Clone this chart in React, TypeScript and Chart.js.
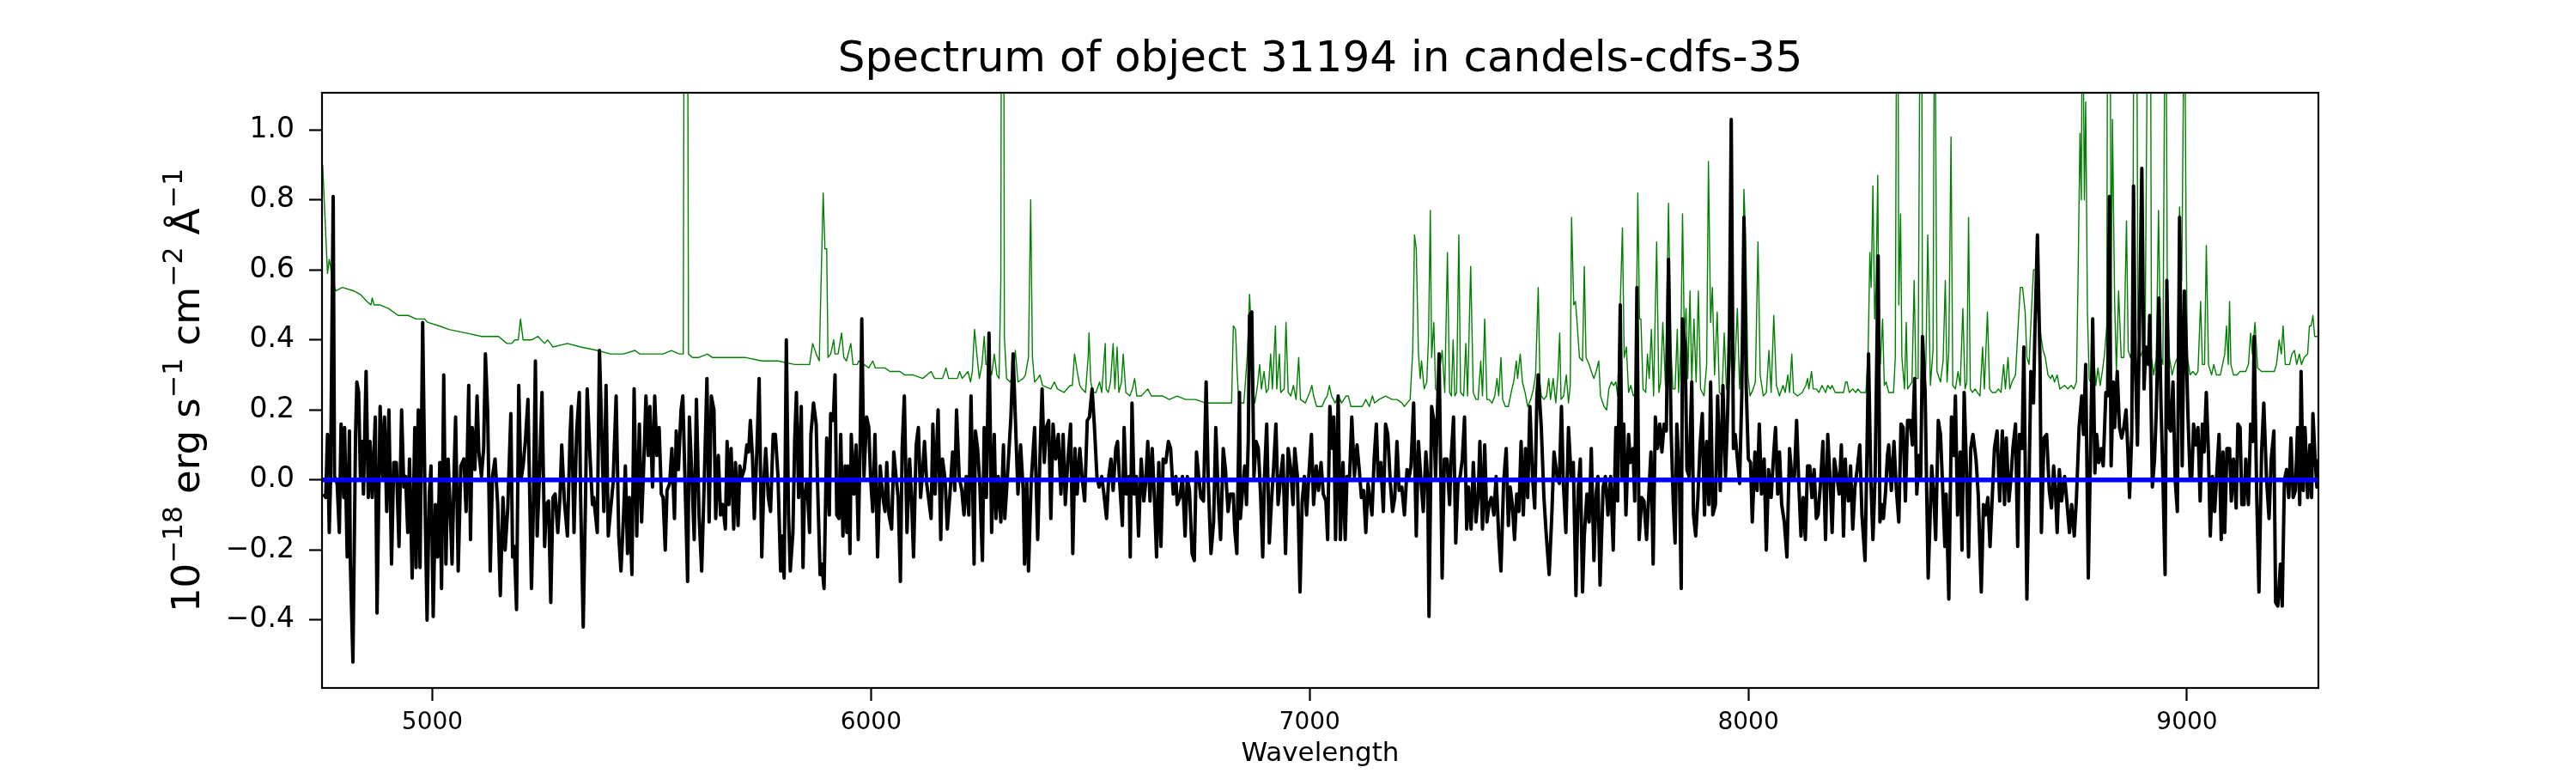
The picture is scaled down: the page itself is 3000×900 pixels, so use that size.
import React, { useEffect, useRef } from "react";
import { Chart, registerables } from "chart.js";

Chart.register(...registerables);

const titleText = "Spectrum of object 31194 in candels-cdfs-35";
const xAxisLabel = "Wavelength";
const yLabelParts = [
  { text: "10", sup: false },
  { text: "\u221218", sup: true },
  { text: " erg s", sup: false },
  { text: "\u22121", sup: true },
  { text: " cm", sup: false },
  { text: "\u22122", sup: true },
  { text: " \u00C5", sup: false },
  { text: "\u22121", sup: true },
];
const xTicks = [5000, 6000, 7000, 8000, 9000];
const yTicks = [-0.4, -0.2, 0.0, 0.2, 0.4, 0.6, 0.8, 1.0];
const xMin = 4748.5;
const xMax = 9299.5;
const yMin = -0.594;
const yMax = 1.106;

// object flux: [wavelength (Å), flux]
const objectFlux = [
  [4752,-0.04],[4757,-0.05],[4761,0.13],[4765,-0.15],[4768,0.00],[4774,0.81],[4777,0.01],[4783,-0.01],[4788,-0.15],[4792,0.16],
  [4798,-0.05],[4800,0.15],[4806,-0.22],[4811,0.14],[4813,-0.23],[4819,-0.52],[4825,0.13],[4828,0.28],[4832,0.25],[4836,0.01],
  [4840,0.11],[4843,-0.04],[4849,0.31],[4854,-0.05],[4858,0.11],[4863,-0.05],[4870,0.18],[4874,-0.38],[4881,0.21],[4887,0.01],
  [4891,0.18],[4896,-0.09],[4901,0.20],[4907,-0.24],[4912,0.05],[4918,0.05],[4924,-0.19],[4930,0.20],[4935,-0.02],[4939,0.01],
  [4944,-0.15],[4948,0.06],[4954,-0.28],[4960,0.15],[4963,-0.25],[4968,0.20],[4972,-0.25],[4978,0.45],[4984,-0.11],[4988,-0.40],
  [4993,-0.04],[4997,0.04],[5002,-0.39],[5007,-0.07],[5012,-0.22],[5017,0.05],[5021,-0.31],[5026,0.30],[5031,-0.24],[5036,0.06],
  [5040,-0.06],[5045,-0.24],[5050,0.04],[5053,0.18],[5059,-0.26],[5065,0.04],[5072,0.06],[5077,-0.09],[5083,0.27],[5087,-0.17],
  [5091,0.15],[5097,0.03],[5102,0.24],[5106,0.08],[5112,0.01],[5117,0.09],[5121,0.36],[5126,0.20],[5132,-0.26],[5137,0.01],
  [5143,0.06],[5149,-0.07],[5155,-0.33],[5161,-0.05],[5166,-0.20],[5172,-0.08],[5179,0.19],[5183,-0.22],[5187,-0.19],[5192,-0.37],
  [5197,0.27],[5202,0.00],[5207,0.04],[5212,0.11],[5218,0.23],[5226,-0.31],[5230,-0.10],[5235,0.34],[5239,-0.16],[5245,0.04],
  [5250,0.25],[5256,-0.19],[5260,-0.07],[5265,-0.06],[5270,-0.35],[5275,-0.05],[5280,-0.04],[5286,-0.15],[5291,-0.05],[5295,0.10],
  [5301,-0.06],[5308,-0.16],[5314,0.13],[5317,0.21],[5323,-0.15],[5329,0.14],[5335,0.25],[5338,-0.05],[5344,-0.42],[5349,-0.07],
  [5353,0.26],[5359,0.08],[5365,-0.07],[5368,-0.05],[5376,-0.15],[5381,0.37],[5385,0.19],[5391,-0.09],[5396,0.27],[5401,-0.16],
  [5406,-0.09],[5412,-0.01],[5419,0.24],[5425,-0.16],[5430,-0.26],[5436,-0.10],[5440,0.04],[5445,-0.21],[5449,-0.05],[5455,-0.27],
  [5460,0.26],[5466,-0.16],[5472,0.16],[5477,-0.12],[5481,0.01],[5487,0.24],[5492,0.07],[5496,0.21],[5502,-0.02],[5507,0.24],
  [5512,0.07],[5517,0.15],[5522,-0.04],[5526,-0.05],[5531,-0.20],[5535,-0.03],[5541,-0.01],[5546,0.09],[5552,-0.11],[5556,0.14],
  [5561,0.03],[5567,0.20],[5571,0.24],[5577,-0.05],[5582,-0.29],[5586,0.18],[5592,0.00],[5597,-0.17],[5602,0.23],[5608,-0.10],
  [5614,-0.26],[5620,0.00],[5626,0.29],[5631,-0.12],[5636,0.24],[5642,0.20],[5646,-0.11],[5652,0.07],[5657,-0.10],[5662,-0.07],
  [5668,-0.14],[5672,0.11],[5676,-0.07],[5681,0.09],[5687,-0.14],[5691,0.05],[5697,-0.13],[5701,0.04],[5706,0.01],[5711,0.03],
  [5717,0.10],[5721,0.08],[5725,0.17],[5730,0.06],[5734,-0.11],[5740,0.09],[5745,0.29],[5751,-0.22],[5756,0.00],[5760,0.09],
  [5766,-0.05],[5771,-0.09],[5777,0.13],[5782,0.13],[5788,0.01],[5794,-0.26],[5797,-0.16],[5802,-0.28],[5807,0.40],[5812,-0.10],
  [5816,-0.26],[5822,-0.15],[5826,0.11],[5830,0.25],[5835,-0.05],[5841,0.21],[5845,-0.25],[5848,-0.06],[5854,0.00],[5860,-0.15],
  [5863,0.13],[5869,0.22],[5875,0.16],[5878,0.00],[5884,-0.27],[5888,-0.24],[5893,-0.31],[5899,0.12],[5905,-0.10],[5908,0.19],
  [5914,0.17],[5918,0.30],[5922,-0.10],[5927,-0.11],[5931,0.13],[5936,-0.16],[5941,0.04],[5945,-0.15],[5948,0.04],[5952,-0.21],
  [5955,0.13],[5961,-0.04],[5966,0.10],[5971,-0.17],[5975,0.08],[5979,0.46],[5984,0.01],[5990,0.18],[5995,0.15],[5999,0.01],
  [6004,-0.09],[6009,0.13],[6015,-0.22],[6021,0.04],[6026,-0.04],[6032,-0.09],[6036,0.05],[6041,-0.10],[6047,-0.14],[6052,0.08],
  [6057,0.01],[6062,-0.05],[6067,-0.29],[6071,0.09],[6076,0.24],[6082,-0.15],[6088,0.06],[6092,-0.04],[6097,-0.22],[6103,0.10],
  [6108,0.15],[6113,-0.05],[6118,0.03],[6122,0.11],[6127,-0.01],[6132,-0.06],[6137,-0.11],[6141,0.16],[6146,-0.04],[6153,0.20],
  [6159,-0.17],[6163,0.06],[6169,0.00],[6174,-0.14],[6180,-0.04],[6186,0.08],[6191,-0.03],[6195,0.20],[6201,0.01],[6207,-0.03],
  [6212,-0.10],[6217,0.01],[6223,-0.10],[6228,0.24],[6235,-0.24],[6238,0.14],[6243,0.09],[6248,-0.01],[6254,-0.23],[6258,0.15],
  [6263,-0.05],[6269,0.42],[6275,-0.15],[6281,0.13],[6285,-0.11],[6290,0.01],[6296,-0.12],[6302,0.10],[6305,-0.11],[6311,0.01],
  [6319,0.18],[6324,0.36],[6329,0.18],[6335,-0.04],[6341,0.10],[6347,-0.03],[6350,-0.24],[6355,0.00],[6359,-0.26],[6365,-0.01],
  [6373,0.15],[6380,-0.17],[6385,0.06],[6390,0.26],[6395,0.05],[6400,0.15],[6405,0.17],[6410,-0.11],[6415,0.16],[6421,0.06],
  [6427,0.13],[6433,-0.04],[6438,0.13],[6443,-0.07],[6449,0.06],[6455,0.16],[6460,-0.21],[6465,0.09],[6470,-0.04],[6476,0.09],
  [6481,0.01],[6487,-0.06],[6493,0.17],[6498,0.18],[6504,0.26],[6509,0.16],[6515,0.01],[6520,-0.02],[6526,0.01],[6531,-0.04],
  [6537,-0.11],[6542,0.01],[6547,0.06],[6552,-0.03],[6558,0.09],[6562,0.11],[6567,-0.01],[6573,-0.13],[6577,0.15],[6582,-0.04],
  [6588,0.01],[6591,-0.22],[6595,0.22],[6600,-0.04],[6605,0.01],[6610,-0.16],[6616,0.06],[6622,-0.06],[6626,-0.01],[6631,0.11],
  [6636,-0.06],[6641,0.09],[6646,-0.05],[6651,-0.22],[6656,0.05],[6661,-0.19],[6666,0.06],[6672,0.05],[6678,0.11],[6683,0.09],
  [6689,-0.04],[6695,0.01],[6698,-0.07],[6704,-0.05],[6710,0.01],[6716,-0.16],[6721,0.01],[6726,-0.03],[6732,-0.21],[6737,-0.23],
  [6742,0.08],[6747,0.01],[6752,-0.05],[6758,-0.06],[6764,0.28],[6769,-0.01],[6775,-0.21],[6781,-0.12],[6786,0.15],[6792,-0.06],
  [6797,-0.17],[6803,0.09],[6808,0.03],[6814,-0.09],[6819,-0.04],[6826,-0.04],[6829,-0.14],[6834,-0.21],[6840,0.25],[6842,-0.11],
  [6847,-0.03],[6852,0.04],[6856,-0.07],[6860,0.11],[6863,0.47],[6868,0.48],[6873,0.01],[6878,0.11],[6883,0.09],[6888,-0.04],
  [6893,-0.22],[6897,0.01],[6902,0.16],[6908,-0.18],[6913,-0.06],[6918,0.04],[6923,0.16],[6928,-0.07],[6934,0.01],[6939,0.07],
  [6945,-0.21],[6951,0.09],[6957,0.03],[6962,-0.07],[6966,0.09],[6972,0.01],[6978,-0.32],[6983,-0.06],[6988,0.01],[6993,-0.10],
  [6998,0.01],[7004,0.13],[7009,-0.07],[7015,0.04],[7020,-0.03],[7026,0.05],[7031,-0.04],[7037,-0.06],[7041,-0.17],[7046,0.21],
  [7052,0.09],[7055,0.18],[7059,-0.17],[7065,0.24],
  [7070,-0.17],[7076,0.05],[7081,-0.17],[7085,0.01],[7091,0.01],[7096,0.18],[7102,0.01],[7108,0.10],[7113,0.03],[7118,-0.05],
  [7123,-0.03],[7128,-0.15],[7133,-0.01],[7138,-0.06],[7142,-0.10],[7147,0.06],[7152,0.16],[7156,0.01],[7162,0.05],[7168,-0.09],
  [7173,0.16],[7178,0.13],[7184,-0.01],[7189,-0.09],[7194,-0.05],[7199,0.11],[7204,-0.03],[7210,-0.02],[7216,-0.10],[7222,0.03],
  [7227,0.01],[7231,0.04],[7237,0.22],[7243,-0.16],[7248,0.11],[7253,0.01],[7259,-0.09],[7265,0.08],[7269,0.00],[7272,-0.39],
  [7278,0.21],[7283,0.17],[7287,0.01],[7295,0.36],[7302,-0.28],[7307,0.06],[7313,0.06],[7319,-0.07],[7322,0.05],[7328,0.18],
  [7333,-0.18],[7338,-0.01],[7343,0.01],[7348,0.06],[7353,0.18],[7358,-0.14],[7362,-0.02],[7368,-0.14],[7373,0.05],[7379,-0.12],
  [7384,-0.05],[7388,0.11],[7394,-0.14],[7399,0.10],[7404,-0.12],[7409,-0.07],[7414,-0.05],[7420,-0.10],[7425,0.01],[7431,-0.16],
  [7436,-0.26],[7442,-0.01],[7448,0.09],[7453,-0.13],[7457,-0.02],[7462,-0.07],[7467,-0.17],[7472,-0.04],[7477,-0.09],[7482,0.11],
  [7487,-0.10],[7492,0.09],[7497,-0.05],[7502,0.21],[7508,0.01],[7513,-0.08],[7518,0.24],[7521,0.30],[7528,0.15],[7534,-0.05],
  [7539,-0.15],[7546,-0.27],[7552,-0.10],[7557,0.08],[7564,0.01],[7569,-0.01],[7574,0.21],[7578,0.00],[7584,-0.15],[7590,0.15],
  [7596,0.01],[7601,0.05],[7607,-0.33],[7612,-0.03],[7617,0.06],[7622,-0.32],[7626,-0.16],[7632,-0.04],[7637,-0.12],[7642,0.09],
  [7648,-0.23],[7653,-0.04],[7657,0.01],[7662,-0.30],[7669,-0.02],[7674,0.01],[7680,-0.10],[7686,0.01],[7692,-0.20],[7698,0.15],
  [7702,-0.06],[7708,0.50],[7712,0.01],[7716,0.16],[7721,-0.10],[7727,0.13],[7731,0.05],[7737,0.09],[7741,-0.06],[7746,0.55],
  [7751,-0.17],[7757,-0.05],[7762,-0.06],[7768,-0.17],[7773,-0.04],[7778,0.08],[7783,-0.24],[7788,0.18],[7793,0.09],[7798,0.16],
  [7803,0.08],[7808,0.16],[7813,0.14],[7818,0.63],[7824,0.14],[7829,-0.07],[7833,-0.18],[7837,0.16],[7843,0.00],[7847,-0.31],
  [7850,0.46],[7856,0.38],[7860,0.03],[7865,0.01],[7871,0.28],[7875,-0.10],[7880,-0.16],[7885,-0.05],[7890,0.10],[7895,0.19],
  [7900,-0.10],[7905,0.11],[7910,-0.07],[7914,0.28],[7919,-0.10],[7925,-0.07],[7930,0.24],[7936,-0.03],[7942,0.27],[7948,0.01],
  [7953,0.20],[7957,0.44],[7961,1.03],[7966,0.09],[7970,0.13],[7975,0.06],[7980,-0.01],[7985,0.24],[7990,0.75],[7995,0.27],
  [8000,0.06],[8005,0.05],[8009,-0.12],[8015,0.08],[8020,-0.03],[8025,0.16],[8030,-0.04],[8036,0.06],[8041,-0.20],[8046,0.03],
  [8052,-0.05],[8058,0.08],[8062,0.15],[8067,-0.04],[8071,0.08],[8076,-0.07],[8082,-0.12],[8088,-0.22],[8094,0.09],[8099,0.01],
  [8105,0.01],[8110,0.17],[8115,-0.01],[8120,-0.16],[8125,-0.05],[8130,-0.17],[8135,0.04],[8140,0.04],[8145,-0.05],[8150,0.03],
  [8155,-0.11],[8159,-0.10],[8165,0.00],[8170,0.11],[8176,-0.17],[8181,0.13],[8186,0.01],[8191,-0.15],[8196,0.06],[8202,0.01],
  [8207,-0.04],[8212,0.10],[8217,-0.16],[8221,0.06],
  [8223,0.00],[8228,-0.06],[8233,0.04],[8238,-0.14],[8243,-0.02],[8248,0.03],[8254,0.10],[8259,-0.10],[8266,-0.23],[8270,0.05],
  [8274,0.36],[8279,0.01],[8284,-0.17],[8289,0.01],[8296,0.64],[8300,-0.12],[8304,-0.07],[8308,-0.11],[8313,-0.03],[8317,0.07],
  [8320,0.10],[8326,-0.03],[8332,0.11],[8337,-0.02],[8343,-0.12],[8348,0.16],[8353,0.15],[8358,-0.06],[8363,0.17],[8369,0.17],
  [8374,0.10],[8379,0.29],[8384,-0.04],[8389,0.07],[8393,0.01],[8397,0.41],[8403,0.25],[8406,0.01],[8410,-0.28],[8418,0.04],
  [8423,-0.05],[8427,-0.17],[8433,0.17],[8438,0.13],[8442,0.01],[8448,-0.19],[8451,-0.04],[8457,-0.34],[8463,0.18],[8468,0.07],
  [8472,0.24],[8477,-0.10],[8483,0.08],[8487,-0.20],[8492,0.25],[8497,0.04],[8502,-0.22],[8507,0.09],[8512,0.13],[8519,0.06],
  [8524,-0.04],[8531,-0.32],[8536,-0.07],[8541,-0.10],[8546,-0.05],[8551,-0.19],[8556,-0.05],[8561,0.09],[8567,0.14],[8573,-0.06],
  [8579,0.14],[8584,-0.07],[8588,0.12],[8594,-0.06],[8599,0.01],[8603,0.09],[8609,0.16],[8614,-0.19],[8618,0.13],[8624,0.09],
  [8628,0.38],[8635,-0.34],[8640,0.00],[8644,0.31],[8650,0.22],[8653,0.41],[8659,0.70],[8665,0.33],[8668,-0.15],[8674,0.12],
  [8680,0.13],[8686,-0.03],[8691,-0.08],[8696,0.04],[8700,-0.03],[8704,-0.15],[8709,0.03],[8714,-0.06],[8721,0.01],[8726,-0.06],
  [8732,-0.15],[8737,-0.07],[8743,-0.16],[8748,-0.05],[8754,0.15],[8760,0.24],[8764,0.13],[8769,0.33],[8775,-0.28],[8781,0.15],
  [8785,0.46],[8790,0.02],[8794,0.13],[8799,0.05],[8804,0.09],[8809,0.04],[8815,0.25],[8819,0.24],[8823,0.81],[8827,0.04],
  [8832,0.28],[8835,0.15],[8841,0.31],[8846,0.15],[8851,0.12],[8856,0.15],[8861,0.20],[8865,0.09],[8869,-0.05],[8874,0.13],
  [8878,0.84],[8882,0.35],[8887,0.10],[8891,0.39],[8897,0.89],[8902,0.26],[8906,0.38],[8912,0.33],[8915,0.47],[8921,-0.02],
  [8926,0.06],[8930,0.20],[8936,0.52],[8941,0.20],[8945,0.01],[8950,-0.27],[8954,0.57],[8959,0.15],[8963,0.14],[8968,0.28],
  [8973,0.00],[8978,-0.09],[8983,0.75],[8989,0.04],[8994,0.54],[8998,0.39],[9002,0.19],[9007,0.01],[9011,0.01],[9015,0.16],
  [9020,0.10],[9025,0.15],[9030,-0.06],[9035,0.16],[9039,0.08],[9044,0.25],[9049,0.07],[9053,-0.16],[9058,0.01],[9063,-0.09],
  [9067,0.00],[9073,0.13],[9078,-0.17],[9082,0.08],[9086,-0.15],[9091,0.09],[9097,0.09],[9101,-0.06],[9106,0.06],[9112,-0.08],
  [9116,0.16],[9121,0.15],[9125,-0.07],[9130,-0.07],[9134,0.06],[9140,-0.07],[9145,0.16],[9150,0.11],[9153,0.41],[9159,-0.05],
  [9164,-0.32],[9170,0.08],[9175,0.22],[9181,0.01],[9187,-0.11],[9192,0.06],[9198,0.14],[9202,-0.35],[9207,-0.36],[9213,-0.24],
  [9217,-0.36],[9222,0.00],[9227,0.03],[9232,-0.05],[9237,0.12],[9242,-0.05],[9247,-0.03],[9252,0.15],[9257,-0.07],[9260,0.31],
  [9265,-0.03],[9269,0.15],[9275,-0.05],[9280,0.10],[9284,-0.05],[9287,0.19],[9292,0.06],[9296,-0.02],[9299,0.06],
];

// noise / sky spectrum: [wavelength (Å), value]
const noiseFlux = [
  [4750,0.90],[4755,0.76],[4761,0.59],[4765,0.63],[4768,0.61],[4772,0.57],[4780,0.54],[4795,0.55],[4821,0.54],[4836,0.53],
  [4851,0.51],[4860,0.50],[4863,0.52],[4867,0.50],[4881,0.50],[4900,0.49],[4922,0.47],[4945,0.47],[4963,0.46],[4982,0.46],
  [4990,0.45],[5016,0.44],[5038,0.43],[5076,0.42],[5113,0.41],[5151,0.41],[5170,0.39],[5181,0.39],[5188,0.40],[5196,0.40],
  [5201,0.46],[5207,0.40],[5226,0.40],[5241,0.41],[5256,0.39],[5263,0.40],[5275,0.38],[5308,0.39],[5338,0.38],[5376,0.37],
  [5406,0.36],[5436,0.36],[5462,0.37],[5473,0.36],[5526,0.36],[5545,0.37],[5563,0.36],[5572,0.36],[5576,2.5],[5580,2.5],
  [5584,0.36],[5593,0.35],[5608,0.35],[5627,0.36],[5638,0.35],[5650,0.35],[5676,0.35],[5713,0.35],[5751,0.34],[5788,0.34],
  [5826,0.33],[5860,0.33],[5867,0.39],[5875,0.36],[5882,0.34],[5891,0.82],[5895,0.66],[5899,0.66],[5902,0.35],[5908,0.36],
  [5915,0.40],[5918,0.36],[5925,0.36],[5933,0.42],[5938,0.35],[5944,0.34],[5954,0.39],[5959,0.33],[5969,0.33],[5972,0.34],
  [5984,0.33],[5995,0.32],[6004,0.34],[6010,0.32],[6032,0.32],[6043,0.31],[6066,0.31],[6077,0.30],[6096,0.30],[6118,0.29],
  [6137,0.31],[6145,0.29],[6163,0.29],[6171,0.32],[6177,0.29],[6197,0.29],[6202,0.31],[6208,0.29],[6221,0.31],[6227,0.28],
  [6231,0.31],[6236,0.43],[6242,0.35],[6247,0.29],[6253,0.33],[6258,0.41],[6262,0.33],[6268,0.33],[6275,0.30],[6281,0.36],
  [6287,0.30],[6292,0.29],[6296,0.57],[6298,2.0],[6302,2.0],[6304,0.41],[6309,0.29],[6317,0.28],[6324,0.30],[6329,0.37],
  [6335,0.28],[6347,0.29],[6352,0.30],[6356,0.33],[6359,0.35],[6364,0.80],[6368,0.35],[6373,0.28],[6380,0.29],[6385,0.30],
  [6391,0.27],[6410,0.26],[6418,0.28],[6425,0.26],[6440,0.25],[6454,0.27],[6459,0.27],[6464,0.36],[6470,0.31],[6476,0.27],
  [6481,0.26],[6489,0.25],[6495,0.35],[6497,0.42],[6501,0.28],[6506,0.25],[6513,0.25],[6521,0.28],[6526,0.25],[6534,0.39],
  [6536,0.26],[6541,0.25],[6546,0.28],[6552,0.39],[6556,0.26],[6561,0.38],[6565,0.25],[6571,0.28],[6575,0.36],[6581,0.25],
  [6590,0.24],[6596,0.26],[6601,0.29],[6606,0.24],[6616,0.24],[6631,0.26],[6639,0.24],[6650,0.24],[6665,0.24],[6680,0.23],
  [6698,0.24],[6717,0.23],[6740,0.23],[6762,0.22],[6792,0.22],[6822,0.22],[6826,0.44],[6831,0.43],[6835,0.30],[6838,0.23],
  [6844,0.22],[6850,0.22],[6858,0.36],[6863,0.53],[6866,0.45],[6871,0.26],[6875,0.22],[6881,0.27],[6886,0.33],[6890,0.26],
  [6896,0.31],[6901,0.25],[6906,0.26],[6911,0.36],[6915,0.26],[6922,0.44],[6925,0.26],[6931,0.36],[6934,0.25],[6942,0.26],
  [6946,0.45],[6951,0.25],[6957,0.24],[6963,0.27],[6969,0.23],[6975,0.35],[6979,0.23],[6990,0.22],[7000,0.25],[7005,0.27],
  [7009,0.24],[7016,0.21],[7028,0.21],[7035,0.23],[7040,0.24],[7045,0.27],[7050,0.24],[7058,0.22],[7065,0.24],
  [7073,0.22],[7083,0.24],[7088,0.24],[7094,0.21],[7109,0.21],[7120,0.21],[7128,0.23],[7136,0.21],[7143,0.24],[7148,0.22],
  [7158,0.23],[7173,0.24],[7188,0.23],[7199,0.23],[7210,0.22],[7216,0.21],[7222,0.22],[7229,0.23],[7235,0.37],[7239,0.70],
  [7243,0.66],[7248,0.36],[7252,0.29],[7255,0.34],[7261,0.26],[7267,0.28],[7271,0.41],[7275,0.77],[7278,0.35],[7283,0.45],
  [7287,0.26],[7293,0.25],[7296,0.31],[7302,0.37],[7308,0.25],[7314,0.65],[7319,0.25],[7323,0.24],[7327,0.40],[7331,0.24],
  [7335,0.25],[7340,0.70],[7344,0.25],[7351,0.24],[7356,0.39],[7360,0.24],[7367,0.61],[7373,0.25],[7379,0.23],[7384,0.23],
  [7390,0.34],[7394,0.24],[7399,0.46],[7404,0.23],[7409,0.23],[7416,0.22],[7422,0.24],[7427,0.29],[7431,0.24],[7436,0.35],
  [7440,0.23],[7446,0.21],[7453,0.21],[7461,0.26],[7465,0.28],[7471,0.34],[7474,0.29],[7480,0.36],[7485,0.28],[7491,0.25],
  [7497,0.21],[7504,0.23],[7510,0.26],[7515,0.30],[7521,0.55],[7525,0.28],[7528,0.24],[7534,0.23],[7540,0.24],[7545,0.29],
  [7549,0.23],[7555,0.29],[7561,0.22],[7566,0.30],[7570,0.42],[7573,0.23],[7579,0.24],[7585,0.30],[7590,0.22],[7594,0.27],
  [7597,0.75],[7602,0.50],[7606,0.51],[7609,0.46],[7615,0.35],[7622,0.34],[7626,0.61],[7630,0.35],[7637,0.33],[7642,0.31],
  [7648,0.29],[7653,0.31],[7659,0.34],[7663,0.24],[7671,0.21],[7677,0.20],[7682,0.26],[7688,0.28],[7693,0.27],[7698,0.28],
  [7702,0.24],[7708,0.50],[7713,0.72],[7717,0.35],[7722,0.38],[7727,0.25],[7732,0.27],[7738,0.24],[7743,0.25],[7748,0.82],
  [7752,0.46],[7755,0.46],[7760,0.26],[7766,0.25],[7770,0.36],[7774,0.29],[7779,0.43],[7784,0.24],[7791,0.68],[7796,0.25],
  [7800,0.28],[7805,0.45],[7811,0.27],[7818,0.79],[7823,0.39],[7828,0.26],[7833,0.26],[7838,0.43],[7841,0.25],[7846,0.38],
  [7850,0.76],[7854,0.41],[7858,0.49],[7862,0.29],[7867,0.54],[7871,0.28],[7876,0.46],[7881,0.28],[7886,0.54],[7891,0.26],
  [7899,0.24],[7905,0.33],[7909,0.91],[7914,0.45],[7918,0.55],[7923,0.30],[7929,0.48],[7934,0.25],[7940,0.24],[7945,0.42],
  [7950,0.26],[7955,0.25],[7961,0.39],[7966,0.25],[7970,0.35],[7975,0.49],[7980,0.26],[7985,0.40],[7990,0.83],[7994,0.68],
  [7999,0.30],[8004,0.24],[8011,0.26],[8016,0.28],[8022,0.68],[8027,0.30],[8034,0.24],[8041,0.25],[8047,0.37],[8052,0.25],
  [8058,0.47],[8064,0.27],[8071,0.24],[8079,0.27],[8084,0.25],[8090,0.30],[8094,0.25],[8099,0.36],[8103,0.25],[8112,0.24],
  [8123,0.25],[8131,0.27],[8135,0.29],[8138,0.26],[8144,0.31],[8148,0.26],[8155,0.26],[8161,0.25],[8168,0.27],[8176,0.25],
  [8181,0.27],[8187,0.26],[8191,0.27],[8198,0.25],[8210,0.25],[8217,0.25],[8222,0.28],
  [8225,0.28],[8230,0.25],[8238,0.26],[8245,0.25],[8250,0.26],[8256,0.25],[8268,0.25],[8273,0.36],[8277,0.65],[8280,0.55],
  [8284,0.84],[8288,0.46],[8291,0.55],[8295,0.87],[8297,0.50],[8301,0.33],[8306,0.46],[8310,0.27],[8314,0.28],[8320,0.25],
  [8331,0.25],[8335,0.35],[8338,1.4],[8341,1.4],[8343,0.50],[8347,0.76],[8350,0.35],[8356,0.26],[8360,0.45],[8363,0.26],
  [8373,0.28],[8378,0.57],[8382,0.29],[8387,0.29],[8392,1.5],[8395,1.5],[8397,0.28],[8403,0.26],[8405,0.35],[8409,0.70],
  [8415,0.27],[8421,0.37],[8424,1.3],[8426,1.3],[8430,0.31],[8438,0.28],[8444,0.34],[8449,0.57],[8453,0.28],[8457,0.37],
  [8462,0.98],[8466,0.27],[8472,0.26],[8478,0.31],[8483,0.27],[8489,0.49],[8494,0.26],[8498,0.28],[8502,0.75],[8506,0.26],
  [8511,0.25],[8517,0.26],[8522,0.25],[8528,0.24],[8534,0.38],[8538,0.26],[8545,0.48],[8550,0.26],[8556,0.25],[8564,0.25],
  [8570,0.26],[8576,0.25],[8582,0.33],[8586,0.26],[8592,0.35],[8596,0.26],[8601,0.28],[8609,0.30],[8615,0.44],[8620,0.55],
  [8625,0.55],[8631,0.48],[8635,0.35],[8640,0.33],[8646,0.50],[8650,0.60],[8655,0.60],[8661,0.48],[8667,0.41],[8672,0.37],
  [8677,0.35],[8683,0.30],[8689,0.29],[8693,0.30],[8698,0.28],[8704,0.30],[8710,0.26],[8721,0.27],[8728,0.26],[8736,0.27],
  [8742,0.26],[8748,0.28],[8752,0.61],[8756,0.99],[8759,0.80],[8761,1.3],[8763,1.3],[8766,0.80],[8769,1.08],[8773,0.48],
  [8777,0.29],[8782,0.27],[8788,0.35],[8792,0.27],[8797,0.32],[8802,0.27],[8807,0.31],[8812,0.36],[8817,0.44],[8819,1.4],
  [8821,1.4],[8823,1.3],[8825,1.3],[8827,0.48],[8830,1.03],[8835,0.51],[8839,0.31],[8844,0.54],[8850,0.35],[8856,0.35],
  [8862,0.74],[8866,0.37],[8871,0.35],[8876,0.37],[8879,1.5],[8881,1.5],[8884,1.2],[8886,1.2],[8888,0.44],[8893,0.35],
  [8899,0.37],[8904,0.33],[8911,1.5],[8913,1.5],[8915,1.3],[8917,1.3],[8919,0.35],[8924,0.30],[8930,0.35],[8935,0.77],
  [8940,0.35],[8945,0.33],[8950,1.4],[8952,1.4],[8955,0.57],[8960,0.35],[8966,0.30],[8972,0.33],[8978,0.35],[8983,0.78],
  [8988,0.57],[8993,1.3],[8995,1.3],[8998,0.68],[9001,0.35],[9007,0.30],[9013,0.31],[9020,0.30],[9025,0.31],[9031,0.51],
  [9035,0.33],[9040,0.33],[9044,0.67],[9049,0.33],[9056,0.30],[9061,0.33],[9067,0.30],[9076,0.30],[9086,0.36],[9090,0.44],
  [9094,0.33],[9097,0.51],[9100,0.33],[9106,0.30],[9114,0.30],[9121,0.31],[9134,0.31],[9140,0.33],[9145,0.42],[9149,0.36],
  [9155,0.45],[9161,0.32],[9170,0.31],[9181,0.31],[9189,0.31],[9199,0.31],[9204,0.33],[9210,0.40],[9215,0.36],[9219,0.44],
  [9224,0.33],[9234,0.33],[9239,0.36],[9245,0.37],[9250,0.33],[9256,0.36],[9261,0.33],[9267,0.35],[9275,0.36],[9279,0.44],
  [9283,0.44],[9287,0.47],[9291,0.41],[9295,0.41],[9299,0.41],
];

// zero level
const zeroLine = [[4748.5, 0], [9299.5, 0]];

const toPoints = (pairs: number[][]) => pairs.map(([x, y]) => ({ x, y }));
const fmtY = (v: number) => v.toFixed(1).replace("-", "\u2212");

const FONT = '"DejaVu Sans", "Liberation Sans", sans-serif';

const decorPlugin = {
  id: "decor",
  afterDraw(chart: any) {
    const { ctx, chartArea: a } = chart;
    ctx.save();
    // axes box
    ctx.strokeStyle = "#000";
    ctx.lineWidth = 2.2;
    ctx.strokeRect(a.left, a.top, a.right - a.left, a.bottom - a.top);
    const cx = (a.left + a.right) / 2;
    ctx.fillStyle = "#000";
    ctx.textBaseline = "alphabetic";
    ctx.textAlign = "center";
    // title
    ctx.font = `50px ${FONT}`;
    ctx.fillText(titleText, cx, a.top - 25);
    // x label
    ctx.font = `31px ${FONT}`;
    ctx.fillText(xAxisLabel, cx, a.bottom + 85);
    // y label (rotated, with superscripts)
    const F = 45;
    const SF = 31.5;
    const raise = 20;
    const widths = yLabelParts.map((p) => {
      ctx.font = `${p.sup ? SF : F}px ${FONT}`;
      return ctx.measureText(p.text).width;
    });
    const total = widths.reduce((s, w) => s + w, 0);
    ctx.translate(232, (a.top + a.bottom) / 2);
    ctx.rotate(-Math.PI / 2);
    ctx.textAlign = "left";
    let x = -total / 2;
    yLabelParts.forEach((p, i) => {
      ctx.font = `${p.sup ? SF : F}px ${FONT}`;
      ctx.fillText(p.text, x, p.sup ? -raise : 0);
      x += widths[i];
    });
    ctx.restore();
  },
};

export default function App() {
  const ref = useRef<HTMLCanvasElement | null>(null);
  useEffect(() => {
    const canvas = ref.current;
    if (!canvas) return;
    const chart = new Chart(canvas, {
      type: "line",
      data: {
        datasets: [
          {
            label: "zero",
            data: toPoints(zeroLine),
            borderColor: "#0000ff",
            borderWidth: 5.5,
            pointRadius: 0,
            tension: 0,
            order: 0,
          },
          {
            label: "flux",
            data: toPoints(objectFlux),
            borderColor: "#000000",
            borderWidth: 4,
            borderJoinStyle: "round",
            pointRadius: 0,
            tension: 0,
            order: 1,
          },
          {
            label: "noise",
            data: toPoints(noiseFlux),
            borderColor: "#008000",
            borderWidth: 1.4,
            borderJoinStyle: "round",
            pointRadius: 0,
            tension: 0,
            order: 2,
          },
        ],
      },
      options: {
        animation: false,
        responsive: false,
        devicePixelRatio: 1,
        events: [],
        layout: { padding: { left: 0, top: 108, right: 300, bottom: 0 } },
        plugins: {
          legend: { display: false },
          tooltip: { enabled: false },
          title: { display: false },
        },
        scales: {
          x: {
            type: "linear",
            min: xMin,
            max: xMax,
            afterFit: (s: any) => {
              s.height = 99;
            },
            afterBuildTicks: (s: any) => {
              s.ticks = xTicks.map((v) => ({ value: v }));
            },
            ticks: {
              color: "#000",
              font: { family: FONT, size: 28 },
              padding: 9,
              maxRotation: 0,
              autoSkip: false,
              callback: (v: any) => String(v),
            },
            grid: {
              display: true,
              drawOnChartArea: false,
              drawTicks: true,
              tickLength: 15,
              tickColor: "#000",
              tickWidth: 2.2,
            },
            border: { display: false },
          },
          y: {
            type: "linear",
            min: yMin,
            max: yMax,
            afterFit: (s: any) => {
              s.width = 375;
            },
            afterBuildTicks: (s: any) => {
              s.ticks = yTicks.map((v) => ({ value: v }));
            },
            ticks: {
              color: "#000",
              font: { family: FONT, size: 33 },
              padding: 17,
              autoSkip: false,
              callback: (v: any) => fmtY(Number(v)),
            },
            grid: {
              display: true,
              drawOnChartArea: false,
              drawTicks: true,
              tickLength: 15,
              tickColor: "#000",
              tickWidth: 2.2,
            },
            border: { display: false },
          },
        },
      },
      plugins: [decorPlugin],
    } as any);
    return () => chart.destroy();
  }, []);
  return (
    <div style={{ position: "fixed", left: 0, top: 0, width: 3000, height: 900, background: "#fff" }}>
      <canvas ref={ref} width={3000} height={900} style={{ display: "block", width: 3000, height: 900 }} />
    </div>
  );
}
